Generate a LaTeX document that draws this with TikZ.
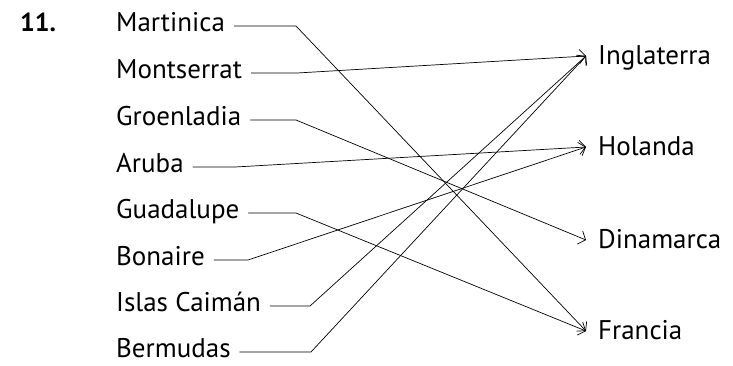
\documentclass[tikz,border=0pt]{standalone}
\usepackage{fontspec}
\setmainfont{PT Sans}
\usetikzlibrary{arrows.meta}

\begin{document}
\begin{tikzpicture}[x=1pt,y=-1pt,line cap=round,line join=round,
  every node/.style={inner sep=0pt,font=\fontsize{27}{31}\selectfont},
  isle/.style={anchor=base west},
  land/.style={anchor=base west},
  link/.style={line width=0.7pt,-{Straight Barb[length=6pt,width=14pt,line width=0.7pt]}}]
  \useasboundingbox (0,0) rectangle (733,365);
  \node[anchor=base west,font=\fontsize{26}{30}\selectfont\bfseries] (num) at (20,31) {11.};
  \node[isle] (mar) at (116,31) {Martinica};
  \node[isle] (mon) at (116,78) {Montserrat};
  \node[isle] (gro) at (116,125) {Groenladia};
  \node[isle] (aru) at (116,172) {Aruba};
  \node[isle] (gua) at (116,218) {Guadalupe};
  \node[isle] (bon) at (116,265) {Bonaire};
  \node[isle] (isl) at (116,311) {Islas Caimán};
  \node[isle] (ber) at (116,357) {Bermudas};
  \node[land] (ing) at (598,64) {Inglaterra};
  \node[land] (hol) at (598,155) {Holanda};
  \node[land] (din) at (598,248) {Dinamarca};
  \node[land] (fra) at (598,339) {Francia};
  \foreach \n/\bx/\t in {mar/296/fra,mon/297/ing,gro/296/din,aru/235/hol,
                         gua/296/fra,bon/248/hol,isl/310/ing,ber/311/ing} {
    \draw[link] ([shift={(9pt,5pt)}]\n.base east) coordinate (s) -- (\bx,0 |- s)
      -- ([shift={(-12pt,8pt)}]\t.base west);
  }
\end{tikzpicture}
\end{document}
